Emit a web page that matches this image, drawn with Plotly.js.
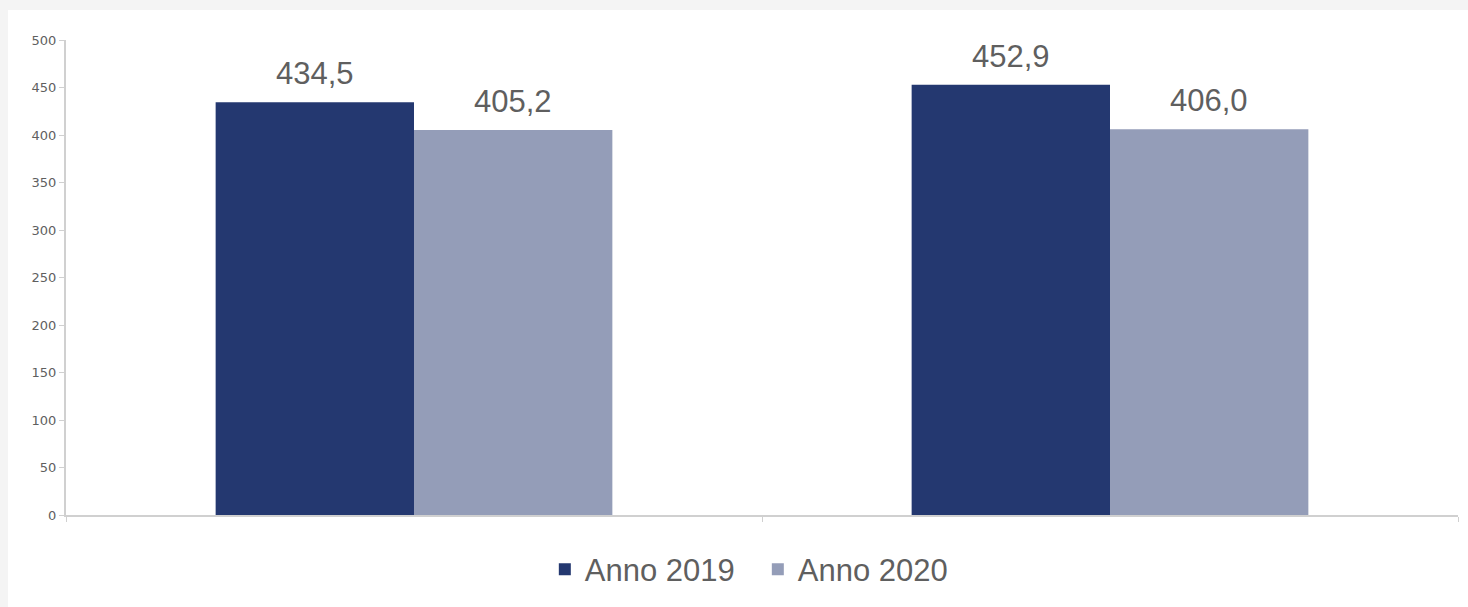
<!DOCTYPE html>
<html><head><meta charset="utf-8">
<script src="https://cdn.plot.ly/plotly-3.0.1.min.js"></script>
<style>
html,body{margin:0;padding:0;background:#f4f4f4;width:1468px;height:607px;overflow:hidden}
#chart{position:absolute;left:8px;top:10px;width:1460px;height:597px;background:#fff}
</style></head><body>
<div id="chart"></div>
<script>
const categories = ["", ""];
const series2019 = [434.5, 452.9];
const series2020 = [405.2, 406.0];
const seriesNames = ["Anno 2019", "Anno 2020"];
const seriesColors = ["#243870", "#949db8"];
const yTicks = [0, 50, 100, 150, 200, 250, 300, 350, 400, 450, 500];

const xs = categories.map((c, i) => i);
const fmt = v => v.toFixed(1).replace('.', ',');

const traces = [series2019, series2020].map((vals, k) => ({
  type: 'bar', x: xs, y: vals, name: seriesNames[k],
  marker: {color: seriesColors[k]}, hoverinfo: 'none'
}));

const offsets = [-0.5, 0.5];
const annotations = [];
[series2019, series2020].forEach((vals, k) => {
  vals.forEach((v, i) => {
    annotations.push({
      x: xs[i] + offsets[k] * 0.285, y: v, xref: 'x', yref: 'y',
      text: fmt(v), showarrow: false, yanchor: 'bottom', yshift: 9,
      font: {family: 'Liberation Sans, Arial, sans-serif', size: 31, color: '#5f5f5f'}
    });
  });
});

const layout = {
  width: 1460, height: 597,
  margin: {l: 58, r: 10, t: 30, b: 90},
  paper_bgcolor: '#fff', plot_bgcolor: '#fff',
  barmode: 'group', bargap: 0.43, bargroupgap: 0,
  showlegend: true,
  legend: {orientation: 'h', x: 0.497, xanchor: 'center', y: -0.115, yanchor: 'middle',
    font: {family: 'Liberation Sans, Arial, sans-serif', size: 31, color: '#5f5f5f'},
    itemwidth: 30, entrywidth: 168, traceorder: 'normal'},
  xaxis: {range: [-0.5, 1.5], tickmode: 'array', tickvals: [-0.5, 0.5, 1.5], ticktext: ['', '', ''],
    ticks: 'outside', ticklen: 5, tickcolor: '#d0d0d0', showline: true, linecolor: '#d0d0d0', linewidth: 2,
    showgrid: false, zeroline: false, fixedrange: true},
  yaxis: {range: [0, 500], tickmode: 'array', tickvals: yTicks, ticks: 'outside', ticklen: 5,
    tickcolor: '#d0d0d0', showline: true, linecolor: '#d0d0d0', linewidth: 2,
    showgrid: false, zeroline: false,
    tickfont: {family: 'DejaVu Sans, Verdana, sans-serif', size: 13, color: '#5f5f5f'}, fixedrange: true},
  annotations: annotations
};
Plotly.newPlot('chart', traces, layout, {displayModeBar: false, staticPlot: true});
</script></body></html>
